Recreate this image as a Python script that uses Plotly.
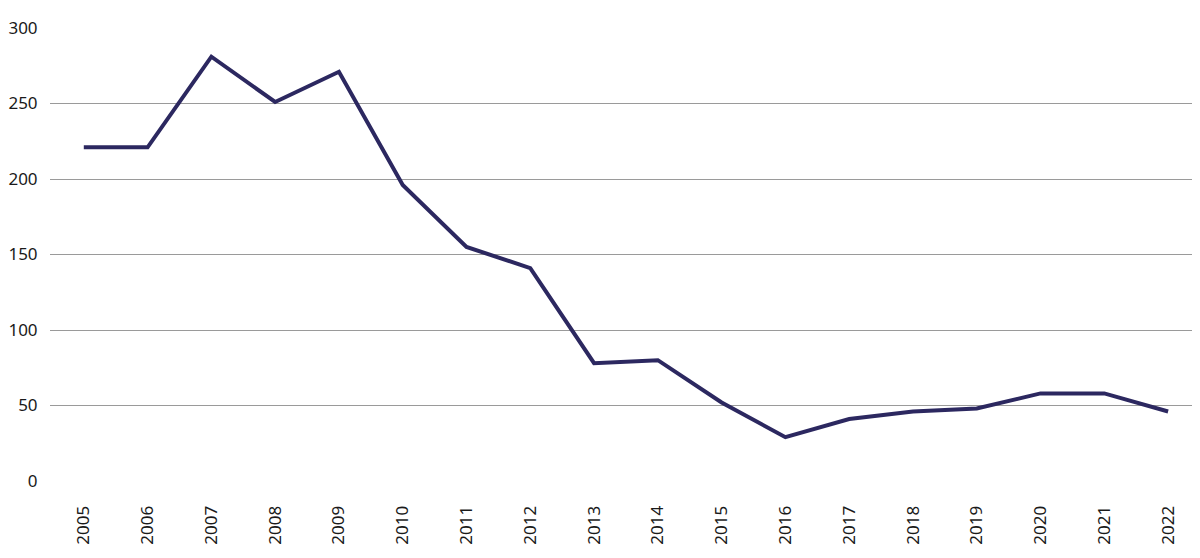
import plotly.graph_objects as go

# Data
years = [str(y) for y in range(2005, 2023)]
values = [221, 221, 281, 251, 271, 196, 155, 141, 78, 80, 52, 29, 41, 46, 48, 58, 58, 46]

y_ticks = [0, 50, 100, 150, 200, 250, 300]

fig = go.Figure()

fig.add_trace(go.Scatter(
    x=years, y=values,
    mode='lines',
    line=dict(color='#2c2860', width=4),
    showlegend=False,
    hoverinfo='x+y'
))

# page body has an 8px margin, so size the figure to fit the window
fig.update_layout(
    width=1192, height=542,
    margin=dict(l=42, r=0, t=20, b=69),
    plot_bgcolor='white',
    paper_bgcolor='white',
    font=dict(family='Noto Sans, Open Sans, sans-serif', size=17, color='#1a1a1a'),
    xaxis=dict(
        type='category',
        range=[-0.53, 17.5],
        automargin=False,
        showgrid=False, zeroline=False, showline=False,
        tickangle=-90,
        ticks='outside', ticklen=17, tickcolor='rgba(0,0,0,0)',
        tickfont=dict(size=17)
    ),
    yaxis=dict(
        range=[0, 300],
        tickvals=y_ticks,
        automargin=False,
        showgrid=True, gridcolor='#9a9a9a', gridwidth=1,
        zeroline=False, showline=False,
        ticks='outside', ticklen=8, tickcolor='rgba(0,0,0,0)',
        tickfont=dict(size=17)
    ),
)

fig.write_html("out.html")
